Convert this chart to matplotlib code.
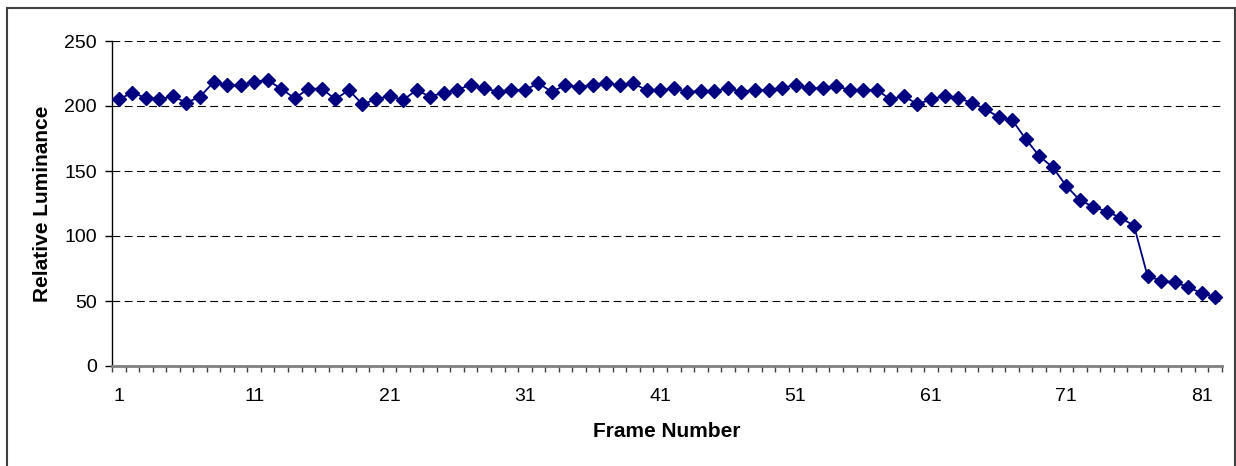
import matplotlib
matplotlib.use("Agg")
import matplotlib.pyplot as plt
from matplotlib.patches import Rectangle
from matplotlib.ticker import FixedLocator

plt.rcParams['font.family'] = ['Liberation Sans', 'DejaVu Sans']

# frame numbers and luminance
frames = list(range(1, 83))
luminance = [
    205.2, 210.2, 206.2, 205.2, 207.5, 202.5, 207.2, 218.2, 215.9, 215.9,
    218.7, 219.8, 213.3, 205.9, 213.3, 213.3, 205.2, 212.3, 201.3, 205.2,
    207.7, 204.6, 212.3, 207.2, 210.2, 212.3, 216.4, 213.6, 211.0, 212.3,
    212.3, 217.5, 210.8, 216.2, 214.6, 216.2, 217.5, 216.2, 217.5, 212.1,
    212.1, 213.6, 210.8, 211.5, 211.5, 213.6, 211.0, 212.3, 212.3, 213.6,
    216.4, 213.6, 213.6, 215.4, 212.3, 212.3, 212.3, 205.2, 207.7, 201.3,
    205.2, 207.7, 206.2, 202.5, 197.7, 191.5, 189.2, 174.6, 161.5, 152.8,
    138.5, 127.5, 122.5, 118.7, 114.1, 107.9, 69.2, 65.6, 64.4, 60.8,
    55.9, 53.3,
]
x_labels = [1, 11, 21, 31, 41, 51, 61, 71, 81]
y_ticks = [0, 50, 100, 150, 200, 250]

fig = plt.figure(figsize=(12.36, 4.66), dpi=100)
ax = fig.add_axes([112/1236, 1 - 366/466, (1222 - 112)/1236, (366 - 41)/466])

ax.plot(frames, luminance, color='#000080', linewidth=1.3,
        marker='D', markersize=7, markeredgecolor='#000080',
        markerfacecolor='#000080', zorder=3)

ax.set_xlim(0.5, 82.5)
ax.set_ylim(0, 250)

ax.set_yticks(y_ticks)
ax.set_xticks(x_labels)
ax.xaxis.set_minor_locator(FixedLocator([i + 0.5 for i in range(0, 83)]))
ax.tick_params(axis='x', which='major', length=0, pad=16, labelsize=14)
ax.tick_params(axis='x', which='minor', length=4, width=1, color='#404040', direction='out')
ax.tick_params(axis='y', which='major', length=5, width=1, color='black', pad=6, labelsize=14)

for y in y_ticks[1:]:
    ax.axhline(y, color='black', linewidth=0.8, linestyle=(0, (7, 4)), zorder=1)

ax.spines['top'].set_visible(False)
ax.spines['right'].set_visible(False)
ax.spines['left'].set_color('black')
ax.spines['left'].set_linewidth(1)
ax.spines['bottom'].set_color('#808080')
ax.spines['bottom'].set_linewidth(2)

ax.set_xlabel('Frame Number', fontsize=15, fontweight='bold', labelpad=12)
ax.set_ylabel('Relative Luminance', fontsize=15, fontweight='bold', labelpad=9)

# outer chart border (bottom edge falls outside the image)
fig.patches.append(Rectangle((7/1236, -0.05), 1228/1236, 1.05 - 8/466,
                             transform=fig.transFigure, fill=False,
                             edgecolor='#404040', linewidth=1.5))

fig.savefig('out.png', dpi=100)
